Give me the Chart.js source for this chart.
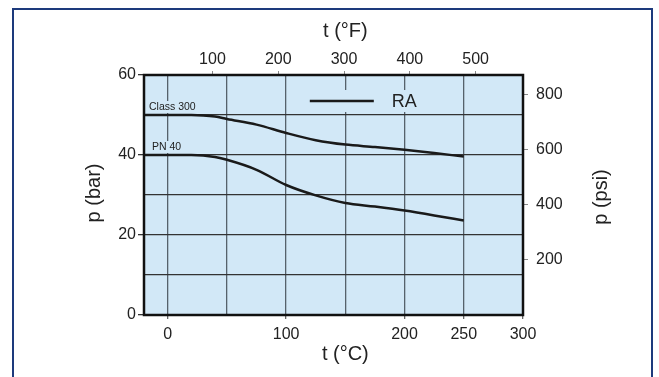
<!DOCTYPE html>
<html>
<head>
<meta charset="utf-8">
<script src="https://cdn.jsdelivr.net/npm/chart.js@4"></script>
<style>
  html, body { margin: 0; padding: 0; background: #fff; }
  #wrap { position: relative; width: 659px; height: 377px; }
  #frame { position: absolute; left: 12px; top: 8px; width: 641px; height: 380px;
           border: 2px solid #1d3a7c; box-sizing: border-box; }
  canvas { position: absolute; left: 0; top: 0; }
</style>
</head>
<body>
<div id="wrap">
  <div id="frame"></div>
  <canvas id="prChart" width="659" height="377"></canvas>
</div>
<script>
// pressure / temperature rating
const tempC = [-20, 0, 20, 30, 40, 50, 75, 100, 125, 150, 175, 200, 225, 250];
const class300 = [50, 50, 50, 49.9, 49.6, 49.0, 47.6, 45.5, 43.7, 42.6, 42.0, 41.3, 40.5, 39.6];
const pn40 = [40, 40, 40, 39.9, 39.5, 38.8, 36.3, 32.5, 29.9, 28.0, 27.1, 26.1, 24.9, 23.6];

// axis ticks
const ticksC = [0, 50, 100, 150, 200, 250, 300];
const labelsC = [0, 100, 200, 250, 300];
const ticksF = [100, 200, 300, 400, 500];
const ticksBar = [0, 10, 20, 30, 40, 50, 60];
const labelsBar = [0, 20, 40, 60];
const ticksPsi = [200, 400, 600, 800];

const PSI_PER_BAR = 14.5038;
const cMin = -20, cMax = 300, barMin = 0, barMax = 60;

const plotBg = '#d2e8f7';
const fontFam = '"Liberation Sans", Arial, sans-serif';

function toPoints(ys) {
  return tempC.map((t, i) => ({x: t, y: ys[i]}));
}

function fixTicks(list) {
  return scale => { scale.ticks = list.map(v => ({value: v})); };
}

const decor = {
  id: 'decor',
  beforeDraw(chart) {
    const {ctx, chartArea: a} = chart;
    ctx.save();
    ctx.fillStyle = plotBg;
    ctx.fillRect(a.left, a.top, a.right - a.left, a.bottom - a.top);
    ctx.restore();
  },
  afterDatasetsDraw(chart) {
    const {ctx, chartArea: a, scales} = chart;
    const x = scales.x, y = scales.y;
    ctx.save();

    // curve labels with background
    ctx.font = '10.5px ' + fontFam;
    ctx.textBaseline = 'middle';
    ctx.textAlign = 'left';
    const lbls = [
      {text: 'Class 300', v: class300[0]},
      {text: 'PN 40', v: pn40[0]}
    ];
    lbls.forEach((l, i) => {
      const lx = a.left + (i === 0 ? 5 : 8);
      const ly = y.getPixelForValue(l.v) - 8;
      const w = ctx.measureText(l.text).width;
      ctx.fillStyle = plotBg;
      ctx.fillRect(lx - 1, ly - 6, w + 2, 12);
      ctx.fillStyle = '#222';
      ctx.fillText(l.text, lx, ly);
    });

    // legend "RA"
    const gx = x.getPixelForValue(120);
    const gy = y.getPixelForValue(53.5);
    ctx.fillStyle = plotBg;
    ctx.fillRect(gx - 8, gy - 11, 125, 22);
    ctx.strokeStyle = '#1a1a1a';
    ctx.lineWidth = 2.5;
    ctx.beginPath();
    ctx.moveTo(gx, gy);
    ctx.lineTo(gx + 64, gy);
    ctx.stroke();
    ctx.font = '18px ' + fontFam;
    ctx.fillStyle = '#222';
    ctx.fillText('RA', gx + 82, gy + 1);

    // plot frame
    ctx.strokeStyle = '#111';
    ctx.lineWidth = 2.5;
    ctx.strokeRect(a.left, a.top, a.right - a.left, a.bottom - a.top);

    // axis titles
    ctx.font = '20px ' + fontFam;
    ctx.fillStyle = '#222';
    ctx.textAlign = 'center';
    const midX = x.getPixelForValue(150);
    const midY = (a.top + a.bottom) / 2 - 2;
    ctx.fillText('t (°F)', midX, 31);
    ctx.fillText('t (°C)', midX, 354);
    ctx.translate(94, midY);
    ctx.rotate(-Math.PI / 2);
    ctx.fillText('p (bar)', 0, 0);
    ctx.rotate(Math.PI / 2);
    ctx.translate(601 - 94, 4);
    ctx.rotate(-Math.PI / 2);
    ctx.fillText('p (psi)', 0, 0);
    ctx.restore();
  }
};

const tickFont = {family: fontFam, size: 16};

new Chart(document.getElementById('prChart'), {
  type: 'line',
  data: {
    datasets: [
      {
        label: 'Class 300',
        data: toPoints(class300),
        borderColor: '#1a1a1a',
        borderWidth: 2.5,
        pointRadius: 0,
        cubicInterpolationMode: 'monotone',
        borderCapStyle: 'butt',
      },
      {
        label: 'PN 40',
        data: toPoints(pn40),
        borderColor: '#1a1a1a',
        borderWidth: 2.5,
        pointRadius: 0,
        cubicInterpolationMode: 'monotone',
        borderCapStyle: 'butt',
      },
    ],
  },
  options: {
    responsive: false,
    animation: false,
    devicePixelRatio: 1,
    layout: { padding: 0, autoPadding: false },
    plugins: {
      legend: { display: false },
      tooltip: { enabled: false },
    },
    scales: {
      x: {
        type: 'linear',
        position: 'bottom',
        min: cMin,
        max: cMax,
        afterBuildTicks: fixTicks(ticksC),
        afterFit: s => { s.height = 62; },
        border: { display: false },
        grid: {
          color: '#56616b',
          lineWidth: 1.3,
          tickLength: 4,
          tickColor: c => labelsC.includes(c.tick.value) ? '#666' : 'rgba(0,0,0,0)',
        },
        ticks: {
          font: tickFont,
          color: '#222',
          padding: 6,
          maxRotation: 0,
          autoSkip: false,
          callback: v => labelsC.includes(v) ? String(v) : '',
        },
      },
      xF: {
        type: 'linear',
        position: 'top',
        min: cMin * 1.8 + 32,
        max: cMax * 1.8 + 32,
        afterBuildTicks: fixTicks(ticksF),
        afterFit: s => { s.height = 75; },
        border: { display: false },
        grid: { drawOnChartArea: false, tickLength: 4, tickColor: '#888' },
        ticks: { font: tickFont, color: '#222', padding: 2, maxRotation: 0, autoSkip: false },
      },
      y: {
        type: 'linear',
        position: 'left',
        min: barMin,
        max: barMax,
        afterBuildTicks: fixTicks(ticksBar),
        afterFit: s => { s.width = 144; },
        border: { display: false },
        grid: {
          color: '#333',
          lineWidth: 1.3,
          tickLength: 6,
          tickColor: c => labelsBar.includes(c.tick.value) ? '#333' : 'rgba(0,0,0,0)',
        },
        ticks: {
          font: tickFont,
          color: '#222',
          padding: 2,
          autoSkip: false,
          callback: v => labelsBar.includes(v) ? String(v) : '',
        },
      },
      yPsi: {
        type: 'linear',
        position: 'right',
        min: barMin * PSI_PER_BAR,
        max: barMax * PSI_PER_BAR,
        afterBuildTicks: fixTicks(ticksPsi),
        afterFit: s => { s.width = 136; },
        border: { display: false },
        grid: { drawOnChartArea: false, tickLength: 5, tickColor: '#888' },
        ticks: { font: tickFont, color: '#222', padding: 8, autoSkip: false },
      },
    },
  },
  plugins: [decor],
});
</script>
</body>
</html>
